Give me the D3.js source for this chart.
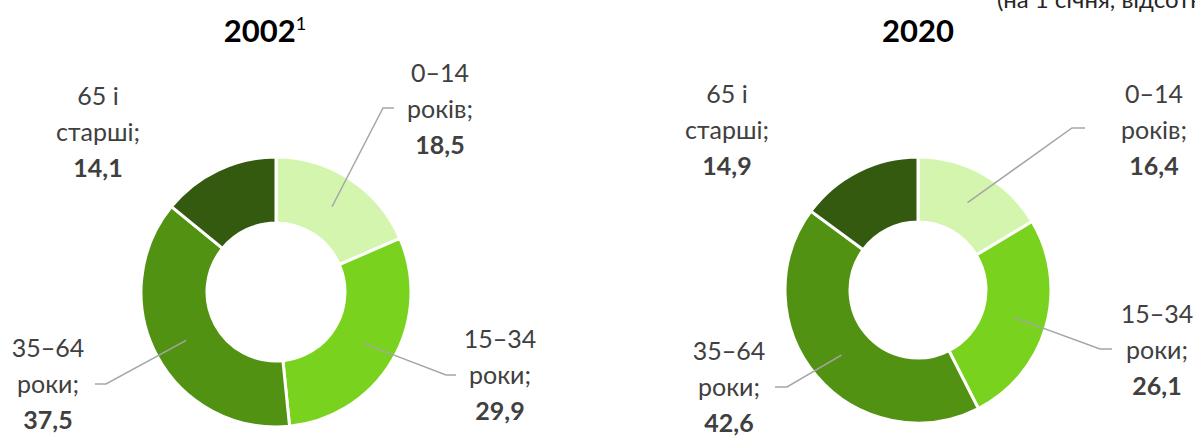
<!DOCTYPE html>
<html>
<head>
<meta charset="utf-8">
<script src="https://cdn.jsdelivr.net/npm/d3@7"></script>
<style>
  html, body { margin: 0; padding: 0; background: #fff; }
  svg { display: block; }
  text { font-family: Lato, "Open Sans", sans-serif; }
</style>
</head>
<body>
<svg id="chart" width="1195" height="437"></svg>
<script>
// ---- data ----
const categories = ["0–14 років", "15–34 роки", "35–64 роки", "65 і старші"];
const labelLine1 = ["0–14", "15–34", "35–64", "65 і"];
const labelLine2 = ["років;", "роки;", "роки;", "старші;"];
const years = ["2002", "2020"];
const yearSup = ["1", ""];
const values2002 = [18.5, 29.9, 37.5, 14.1];
const values2020 = [16.4, 26.1, 42.6, 14.9];
const colors = ["#d3f5ad", "#79d31e", "#529213", "#335a0f"];

// ---- layout ----
const svg = d3.select("#chart");
const fmt = v => d3.format(".1f")(v).replace(".", ",");

const charts = [
  {
    year: years[0], sup: yearSup[0], values: values2002,
    cx: 276, cy: 292, r: 135, ir: 69, titleX: 265, titleY: 42,
    labels: [
      { x: 440, y: 82, leader: [[383, 108], [394, 108]] },
      { x: 500, y: 348, leader: [[446, 375], [456, 375]] },
      { x: 48, y: 357, leader: [[106, 384], [95, 384]] },
      { x: 98, y: 105, leader: null }
    ]
  },
  {
    year: years[1], sup: yearSup[1], values: values2020,
    cx: 918, cy: 290, r: 133, ir: 68, titleX: 918, titleY: 42,
    labels: [
      { x: 1154, y: 103, leader: [[1072, 128], [1085, 128]] },
      { x: 1157, y: 323, leader: [[1100, 349], [1112, 349]] },
      { x: 729, y: 360, leader: [[787, 387], [775, 387]] },
      { x: 727, y: 103, leader: null }
    ]
  }
];

// partial heading at top right (clipped in original)
svg.append("text")
  .attr("x", 997).attr("y", 8)
  .attr("font-size", 24).attr("fill", "#262626")
  .text("(на 1 січня, відсотків)");

const pie = d3.pie().sort(null).value(d => d);

charts.forEach(c => {
  const g = svg.append("g");
  const arc = d3.arc().innerRadius(c.ir).outerRadius(c.r);
  const mid = d3.arc().innerRadius((c.ir + c.r) / 2).outerRadius((c.ir + c.r) / 2);
  const arcs = pie(c.values);

  // title
  const t = g.append("text")
    .attr("x", c.titleX).attr("y", c.titleY)
    .attr("text-anchor", "middle")
    .attr("font-size", 31).attr("font-weight", "bold").attr("fill", "#000");
  t.append("tspan").text(c.year);
  if (c.sup) {
    t.append("tspan").attr("dy", -12).attr("font-size", 18).attr("font-weight", "normal").text(c.sup);
  }

  // slices
  g.append("g").attr("transform", `translate(${c.cx},${c.cy})`)
    .selectAll("path").data(arcs).join("path")
    .attr("d", arc)
    .attr("fill", (d, i) => colors[i])
    .attr("stroke", "#fff").attr("stroke-width", 3).attr("stroke-linejoin", "miter");

  // leader lines
  arcs.forEach((d, i) => {
    const L = c.labels[i];
    if (!L.leader) return;
    const p = mid.centroid(d);
    const pts = [[c.cx + p[0], c.cy + p[1]], L.leader[0], L.leader[1]];
    g.append("path")
      .attr("d", d3.line()(pts))
      .attr("fill", "none").attr("stroke", "#a6a6a6").attr("stroke-width", 1.5);
  });

  // labels
  arcs.forEach((d, i) => {
    const L = c.labels[i];
    const tx = g.append("text")
      .attr("text-anchor", "middle")
      .attr("font-size", 25).attr("fill", "#404040");
    tx.append("tspan").attr("x", L.x).attr("y", L.y).text(labelLine1[i]);
    tx.append("tspan").attr("x", L.x).attr("y", L.y + 36).text(labelLine2[i]);
    tx.append("tspan").attr("x", L.x).attr("y", L.y + 72)
      .attr("font-weight", "bold").text(fmt(d.data));
  });
});
</script>
</body>
</html>
